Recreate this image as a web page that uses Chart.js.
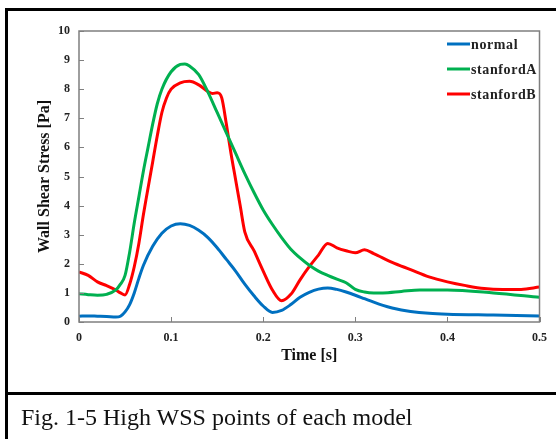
<!DOCTYPE html>
<html><head><meta charset="utf-8">
<script src="https://cdn.jsdelivr.net/npm/chart.js@4"></script>
<style>
html,body{margin:0;padding:0;background:#fff;width:556px;height:439px;overflow:hidden;}
#wrap{position:absolute;left:0;top:0;width:556px;height:390px;}
.bl{position:absolute;background:#000;}
#cap{position:absolute;left:21px;top:403px;font-family:"Liberation Serif","Times New Roman",serif;font-size:24px;color:#111;white-space:nowrap;line-height:28px;}
</style></head><body>
<div id="wrap"><canvas id="c"></canvas></div>
<div class="bl" style="left:5px;top:8px;width:3px;height:431px"></div>
<div class="bl" style="left:5px;top:8px;width:551px;height:3px"></div>
<div class="bl" style="left:5px;top:392px;width:551px;height:3px"></div>
<div id="cap">Fig. 1-5 High WSS points of each model</div>
<script>
const seriesNames = ['normal', 'stanfordA', 'stanfordB'];
const seriesColors = ['#0070C0', '#00B050', '#FF0000'];

const tNormal = [0,0.01,0.02,0.03,0.04,0.045,0.05,0.055,0.06,0.065,0.07,0.08,0.09,0.1,0.11,0.12,0.13,0.14,0.15,0.16,0.17,0.18,0.19,0.2,0.21,0.22,0.23,0.24,0.25,0.26,0.27,0.28,0.29,0.3,0.31,0.32,0.33,0.34,0.35,0.36,0.38,0.4,0.45,0.5];
const normal = [0.2,0.21,0.2,0.19,0.17,0.2,0.35,0.6,1.0,1.5,1.95,2.6,3.05,3.3,3.38,3.32,3.15,2.9,2.55,2.15,1.75,1.3,0.9,0.55,0.33,0.4,0.6,0.85,1.02,1.13,1.17,1.12,1.03,0.92,0.8,0.68,0.57,0.48,0.41,0.36,0.3,0.27,0.24,0.21];

const tStanfordA = [0,0.01,0.02,0.03,0.04,0.045,0.05,0.055,0.06,0.065,0.07,0.075,0.08,0.085,0.09,0.1,0.11,0.115,0.12,0.13,0.14,0.15,0.16,0.17,0.18,0.19,0.2,0.21,0.22,0.23,0.24,0.25,0.26,0.27,0.28,0.29,0.3,0.31,0.32,0.33,0.35,0.37,0.4,0.45,0.5];
const stanfordA = [0.97,0.94,0.92,0.95,1.1,1.3,1.6,2.4,3.4,4.3,5.2,6.0,6.8,7.5,8.0,8.6,8.85,8.87,8.8,8.5,7.9,7.2,6.5,5.8,5.1,4.45,3.85,3.35,2.9,2.5,2.2,1.95,1.75,1.6,1.47,1.35,1.12,1.03,1.0,1.0,1.05,1.1,1.1,1.0,0.85];

const tStanfordB = [0,0.01,0.02,0.03,0.04,0.045,0.05,0.055,0.06,0.065,0.07,0.08,0.085,0.09,0.095,0.1,0.11,0.12,0.13,0.14,0.145,0.15,0.155,0.16,0.165,0.17,0.175,0.18,0.19,0.2,0.21,0.22,0.23,0.24,0.25,0.26,0.27,0.28,0.29,0.3,0.31,0.32,0.34,0.36,0.38,0.4,0.42,0.44,0.46,0.48,0.5];
const stanfordB = [1.72,1.6,1.38,1.25,1.1,1.0,0.93,1.3,1.9,2.7,3.7,5.5,6.4,7.2,7.7,8.0,8.22,8.27,8.15,7.92,7.85,7.88,7.7,6.8,5.8,4.9,4.0,3.1,2.45,1.75,1.1,0.73,0.95,1.45,1.9,2.3,2.7,2.55,2.45,2.38,2.48,2.35,2.05,1.8,1.55,1.38,1.25,1.15,1.12,1.12,1.2];

const xTickValues = [0, 0.1, 0.2, 0.3, 0.4, 0.5];
const xTickLabels = ['0', '0.1', '0.2', '0.3', '0.4', '0.5'];
const yTickValues = [0,1,2,3,4,5,6,7,8,9,10];
const yTickLabels = ['0','1','2','3','4','5','6','7','8','9','10'];

const FONT = '"Liberation Serif","Times New Roman",serif';

function pts(ts, vs){ return ts.map((t,i)=>({x:t, y:vs[i]})); }

const framePlugin = {
  id:'frame',
  afterDraw(chart){
    const {ctx, chartArea:a, scales} = chart;
    ctx.save();
    ctx.strokeStyle = '#808080';
    ctx.lineWidth = 1;
    yTickValues.forEach(v=>{
      const y = Math.round(scales.y.getPixelForValue(v)) + 0.5;
      ctx.beginPath(); ctx.moveTo(a.left, y); ctx.lineTo(a.left+5, y); ctx.stroke();
    });
    xTickValues.forEach(v=>{
      const x = Math.round(scales.x.getPixelForValue(v)) + 0.5;
      ctx.beginPath(); ctx.moveTo(x, a.bottom); ctx.lineTo(x, a.bottom-5); ctx.stroke();
    });
    ctx.lineWidth = 1.5;
    ctx.strokeStyle = '#7f7f7f';
    ctx.strokeRect(a.left, a.top, a.right-a.left, a.bottom-a.top);
    const lx = 447, ly = 44, gap = 25;
    chart.data.datasets.forEach((ds,i)=>{
      const y = ly + i*gap;
      ctx.strokeStyle = ds.borderColor;
      ctx.lineWidth = 3;
      ctx.beginPath(); ctx.moveTo(lx, y); ctx.lineTo(lx+23, y); ctx.stroke();
      ctx.fillStyle = '#222';
      ctx.font = 'bold 14px ' + FONT;
      ctx.textBaseline = 'middle';
      ctx.textAlign = 'left';
      try { ctx.letterSpacing = '0.6px'; } catch(e){}
      ctx.fillText(ds.label, lx+24, y+1);
    });
    ctx.restore();
  }
};

new Chart(document.getElementById('c'), {
  type:'line',
  data:{datasets:[
    {label:seriesNames[0], data:pts(tNormal, normal), borderColor:seriesColors[0]},
    {label:seriesNames[1], data:pts(tStanfordA, stanfordA), borderColor:seriesColors[1]},
    {label:seriesNames[2], data:pts(tStanfordB, stanfordB), borderColor:seriesColors[2]}
  ]},
  options:{
    responsive:true, maintainAspectRatio:false, animation:false,
    layout:{padding:{left:0, top:31, right:11, bottom:0}},
    plugins:{legend:{display:false}, tooltip:{enabled:false}},
    elements:{point:{radius:0}, line:{borderWidth:3, cubicInterpolationMode:'monotone', fill:false}},
    scales:{
      x:{type:'linear', min:0, max:0.5,
        afterFit:s=>{s.height=68;},
        afterBuildTicks:s=>{s.ticks = xTickValues.map(v=>({value:v}));},
        ticks:{callback:(v)=>xTickLabels[Math.round(v*10)], font:{family:FONT, size:12, weight:'bold'}, color:'#222', padding:9, maxRotation:0},
        grid:{display:false, drawTicks:false}, border:{display:false},
        title:{display:true, text:'Time [s]', font:{family:FONT, size:16, weight:'bold'}, color:'#111', padding:{top:0, bottom:25}}
      },
      y:{type:'linear', min:0, max:10,
        afterFit:s=>{s.width=79;},
        afterBuildTicks:s=>{s.ticks = yTickValues.map(v=>({value:v}));},
        ticks:{callback:(v)=>yTickLabels[Math.round(v)], font:{family:FONT, size:12, weight:'bold'}, color:'#222', padding:9},
        grid:{display:false, drawTicks:false}, border:{display:false},
        title:{display:true, text:'Wall Shear Stress [Pa]', font:{family:FONT, size:16, weight:'bold'}, color:'#111', padding:{top:35, bottom:0}}
      }
    }
  },
  plugins:[framePlugin]
});
</script>
</body></html>
